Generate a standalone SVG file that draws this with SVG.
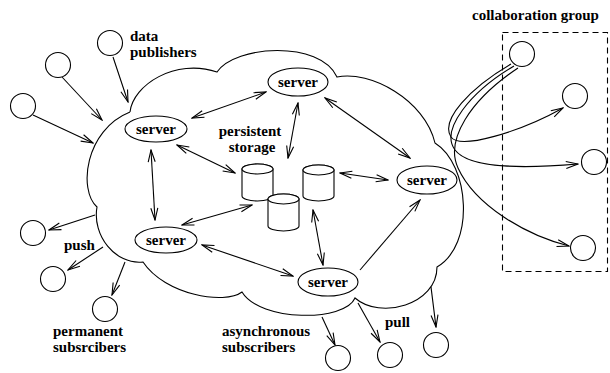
<svg xmlns="http://www.w3.org/2000/svg" width="610" height="373" viewBox="0 0 610 373">
  <style>
    .ln { fill: none; stroke: #000; stroke-width: 1.1; }
    .nd { fill: #fff; stroke: #000; stroke-width: 1.1; }
    .lbl { font-family: "Liberation Serif", "Times New Roman", serif; font-weight: bold; font-size: 15px; fill: #000; }
    .mid { text-anchor: middle; }
    .two { marker-start: url(#ah); marker-end: url(#ah); }
    .one { marker-end: url(#ah); }
  </style>
  <defs>
    <marker id="ah" viewBox="-13 -5 14 10" refX="0" refY="0" markerWidth="14" markerHeight="10" orient="auto-start-reverse" markerUnits="userSpaceOnUse">
      <path d="M-12,-3.5 L0,0 L-12,3.5" fill="none" stroke="#000" stroke-width="1.1"/>
    </marker>
  </defs>
  <rect width="610" height="373" fill="#fff"/>

  <!-- network cloud -->
  <g id="cloud">
    <path class="ln" d="M130,112 C133,85 175,58 217,72 C235,45 320,40 337,77 C370,70 425,100 435,143 C470,165 475,245 437,267 C437,305 380,320 355,298 C345,322 260,322 242,292 C225,305 165,295 143,262 C115,265 92,235 97,207 C78,190 85,130 130,112"/>
  </g>

  <!-- connectors -->
  <g id="connectors">
    <line class="ln two" x1="192" y1="118" x2="266" y2="92"/>
    <line class="ln two" x1="177" y1="145" x2="235" y2="173"/>
    <line class="ln two" x1="151" y1="150" x2="155" y2="220"/>
    <line class="ln two" x1="182" y1="225" x2="252" y2="205"/>
    <line class="ln two" x1="202" y1="245" x2="293" y2="276"/>
    <line class="ln two" x1="298" y1="103" x2="288" y2="158"/>
    <line class="ln two" x1="325" y1="98" x2="410" y2="158"/>
    <line class="ln two" x1="340" y1="173" x2="388" y2="180"/>
    <line class="ln two" x1="313" y1="210" x2="323" y2="265"/>
    <line class="ln one" x1="360" y1="270" x2="420" y2="200"/>
    <!-- publishers into the cloud -->
    <line class="ln one" x1="113" y1="57" x2="128" y2="102"/>
    <line class="ln one" x1="62" y1="77" x2="102" y2="120"/>
    <line class="ln one" x1="33" y1="115" x2="93" y2="143"/>
    <!-- push to permanent subscribers -->
    <line class="ln one" x1="95" y1="215" x2="49" y2="230"/>
    <line class="ln one" x1="103" y1="247" x2="68" y2="270"/>
    <line class="ln one" x1="125" y1="262" x2="112" y2="295"/>
    <!-- pull by asynchronous subscribers -->
    <line class="ln one" x1="322" y1="317" x2="335" y2="345"/>
    <line class="ln one" x1="358" y1="303" x2="380" y2="342"/>
    <line class="ln one" x1="431" y1="287" x2="436" y2="327"/>
    <!-- collaboration group links -->
    <path class="ln one" d="M511,64 C470,88 440,120 451,137 C460,150 520,132 563,108"/>
    <path class="ln one" d="M514,66 C470,92 440,130 455,150 C470,170 530,168 578,164"/>
    <path class="ln one" d="M518,68 C470,100 445,140 458,168 C475,205 525,235 569,246"/>
  </g>

  <!-- servers -->
  <g id="server-nw">
    <ellipse class="nd" cx="156" cy="129" rx="31" ry="13"/>
    <text class="lbl mid" x="156" y="134">server</text>
  </g>
  <g id="server-n">
    <ellipse class="nd" cx="298" cy="82" rx="30" ry="14"/>
    <text class="lbl mid" x="298" y="87">server</text>
  </g>
  <g id="server-e">
    <ellipse class="nd" cx="427" cy="180" rx="30" ry="14"/>
    <text class="lbl mid" x="427" y="185">server</text>
  </g>
  <g id="server-sw">
    <ellipse class="nd" cx="166" cy="240" rx="31" ry="13"/>
    <text class="lbl mid" x="166" y="245">server</text>
  </g>
  <g id="server-s">
    <ellipse class="nd" cx="328" cy="282" rx="30" ry="14"/>
    <text class="lbl mid" x="328" y="287">server</text>
  </g>

  <!-- persistent storage -->
  <g id="storage">
    <path class="nd" d="M242,169 L242,196 A15.5,5 0 0 0 273,196 L273,169 A15.5,5 0 0 0 242,169 Z"/>
    <ellipse class="nd" cx="257.5" cy="169" rx="15.5" ry="5"/>
    <path class="nd" d="M268,199 L268,226 A15.5,5 0 0 0 299,226 L299,199 A15.5,5 0 0 0 268,199 Z"/>
    <ellipse class="nd" cx="283.5" cy="199" rx="15.5" ry="5"/>
    <path class="nd" d="M303,170 L303,196 A15.5,5 0 0 0 334,196 L334,170 A15.5,5 0 0 0 303,170 Z"/>
    <ellipse class="nd" cx="318.5" cy="170" rx="15.5" ry="5"/>
    <text class="lbl mid" x="250" y="136">persistent</text>
    <text class="lbl mid" x="252" y="152">storage</text>
  </g>

  <!-- data publishers -->
  <g id="publishers">
    <circle class="nd" cx="110" cy="43" r="12.5"/>
    <circle class="nd" cx="58" cy="65" r="12.5"/>
    <circle class="nd" cx="23" cy="106" r="12.5"/>
    <text class="lbl" x="130" y="41">data</text>
    <text class="lbl" x="130" y="57">publishers</text>
  </g>

  <!-- permanent subscribers -->
  <g id="permanent-subscribers">
    <circle class="nd" cx="33" cy="233" r="12.5"/>
    <circle class="nd" cx="53" cy="279" r="12.5"/>
    <circle class="nd" cx="105" cy="309" r="12.5"/>
    <text class="lbl" x="64" y="250">push</text>
    <text class="lbl" x="53" y="336">permanent</text>
    <text class="lbl" x="53" y="352">subsrcibers</text>
  </g>

  <!-- asynchronous subscribers -->
  <g id="async-subscribers">
    <circle class="nd" cx="338" cy="358" r="12.5"/>
    <circle class="nd" cx="390" cy="355" r="12.5"/>
    <circle class="nd" cx="436" cy="345" r="12.5"/>
    <text class="lbl" x="385" y="327">pull</text>
    <text class="lbl" x="222" y="336">asynchronous</text>
    <text class="lbl" x="222" y="352">subscribers</text>
  </g>

  <!-- collaboration group -->
  <g id="collaboration-group">
    <rect x="502.5" y="32.5" width="105" height="239" fill="none" stroke="#000" stroke-width="1.1" stroke-dasharray="6,4"/>
    <text class="lbl" x="472" y="20">collaboration group</text>
    <circle class="nd" cx="522" cy="54" r="12.5"/>
    <circle class="nd" cx="575" cy="96" r="12.5"/>
    <circle class="nd" cx="594" cy="162" r="12.5"/>
    <circle class="nd" cx="583" cy="248" r="12.5"/>
  </g>
</svg>
